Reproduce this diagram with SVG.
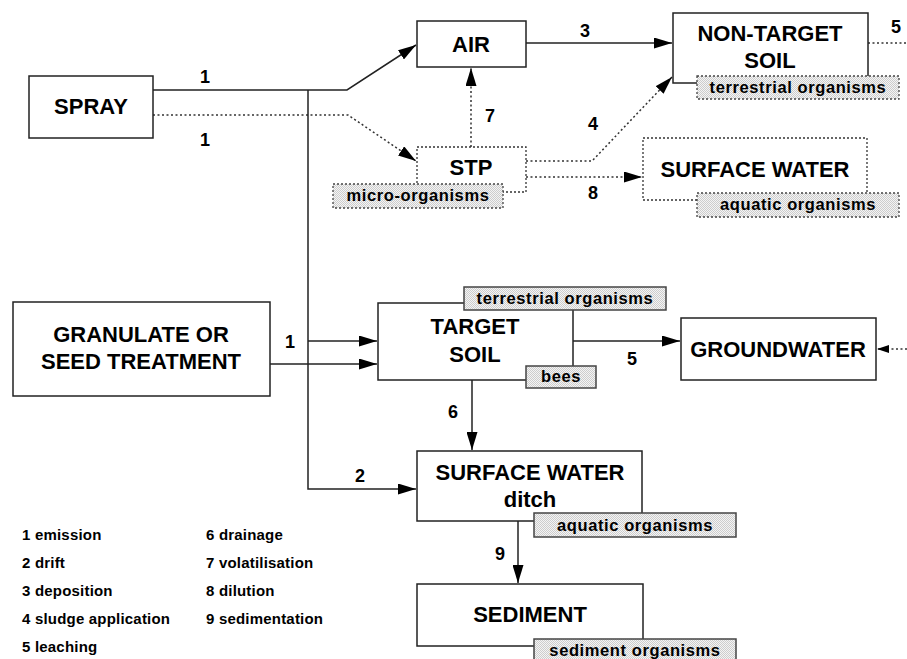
<svg xmlns="http://www.w3.org/2000/svg" width="907" height="659" viewBox="0 0 907 659">
<defs>
<pattern id="hatch" width="2" height="2" patternUnits="userSpaceOnUse">
<rect width="2" height="2" fill="#f4f4f4"/>
<rect width="1" height="1" fill="#cdcdcd"/>
<rect x="1" y="1" width="1" height="1" fill="#cdcdcd"/>
</pattern>
<marker id="ah" markerWidth="18" markerHeight="11" refX="18" refY="5.5" orient="auto" markerUnits="userSpaceOnUse">
<path d="M0,0 L18,5.5 L0,11 z" fill="#000"/>
</marker>
<marker id="ahs" markerWidth="12" markerHeight="8" refX="12" refY="4" orient="auto" markerUnits="userSpaceOnUse">
<path d="M0,0 L12,4 L0,8 z" fill="#000"/>
</marker>
<style>
.box{fill:#fff;stroke:#222;stroke-width:1.5}
.dbox{fill:none;stroke:#333;stroke-width:1.3;stroke-dasharray:2,2}
.hb{fill:url(#hatch);stroke:#444;stroke-width:1.5}
.hbd{fill:url(#hatch);stroke:#444;stroke-width:1.3;stroke-dasharray:2,2}
.ln{fill:none;stroke:#222;stroke-width:1.5}
.dl{fill:none;stroke:#333;stroke-width:1.5;stroke-dasharray:2,2.5}
.t{font-family:"Liberation Sans",Arial,sans-serif;font-weight:bold;font-size:22px;text-anchor:middle;fill:#000}
.h{font-family:"Liberation Sans",Arial,sans-serif;font-weight:bold;font-size:16.5px;letter-spacing:0.6px;text-anchor:middle;fill:#000}
.n{font-family:"Liberation Sans",Arial,sans-serif;font-weight:bold;font-size:18px;text-anchor:middle;fill:#000}
.lg{font-family:"Liberation Sans",Arial,sans-serif;font-weight:bold;font-size:15px;letter-spacing:0.2px;fill:#000}
</style>
</defs>
<rect width="907" height="659" fill="#fff"/>

<g id="connectors">
<path class="ln" d="M153,90 H347 L416,45" marker-end="url(#ah)"/>
<path class="dl" d="M153,115 H348 L416,161" marker-end="url(#ah)"/>
<path class="ln" d="M308,90 V489 H416" marker-end="url(#ah)"/>
<path class="ln" d="M308,341 H377" marker-end="url(#ah)"/>
<path class="ln" d="M270,364 H377" marker-end="url(#ah)"/>
<path class="ln" d="M526,43 H672" marker-end="url(#ah)"/>
<path class="dl" d="M471,147 V68" marker-end="url(#ah)"/>
<path class="dl" d="M526,161 H592 L672,77" marker-end="url(#ah)"/>
<path class="dl" d="M526,177 H642" marker-end="url(#ah)"/>
<path class="dl" d="M868,43 H907"/>
<path class="ln" d="M573,341 H680" marker-end="url(#ah)"/>
<path class="dl" d="M907,349 H877" marker-end="url(#ahs)"/>
<path class="ln" d="M472,380 V450" marker-end="url(#ah)"/>
<path class="ln" d="M518,521 V583" marker-end="url(#ah)"/>
<text class="n" x="205" y="83">1</text>
<text class="n" x="205" y="146">1</text>
<text class="n" x="585" y="37">3</text>
<text class="n" x="896" y="33">5</text>
<text class="n" x="490" y="122">7</text>
<text class="n" x="593" y="130">4</text>
<text class="n" x="593" y="199">8</text>
<text class="n" x="290" y="348">1</text>
<text class="n" x="360" y="482">2</text>
<text class="n" x="453" y="418">6</text>
<text class="n" x="632" y="365">5</text>
<text class="n" x="500" y="560">9</text>
</g>

<g id="spray">
<rect class="box" x="29" y="76" width="124" height="62"/>
<text class="t" x="91" y="114">SPRAY</text>
</g>

<g id="air">
<rect class="box" x="417" y="21" width="109" height="46"/>
<text class="t" x="471" y="52">AIR</text>
</g>

<g id="non-target-soil">
<rect class="box" x="673" y="13" width="195" height="70"/>
<text class="t" x="770" y="41">NON-TARGET</text>
<text class="t" x="770" y="68">SOIL</text>
<rect class="hbd" x="697" y="76" width="202" height="23"/>
<text class="h" x="798" y="93">terrestrial organisms</text>
</g>

<g id="stp">
<rect class="dbox" x="417" y="147" width="109" height="45"/>
<text class="t" x="471" y="175">STP</text>
<rect class="hbd" x="333" y="184" width="170" height="24"/>
<text class="h" x="418" y="201">micro-organisms</text>
</g>

<g id="surface-water-upper">
<rect class="dbox" x="643" y="138" width="224" height="62"/>
<text class="t" x="755" y="177">SURFACE WATER</text>
<rect class="hbd" x="697" y="193" width="202" height="24"/>
<text class="h" x="798" y="210">aquatic organisms</text>
</g>

<g id="granulate">
<rect class="box" x="13" y="302" width="257" height="94"/>
<text class="t" x="141" y="342">GRANULATE OR</text>
<text class="t" x="141" y="369">SEED TREATMENT</text>
</g>

<g id="target-soil">
<rect class="box" x="378" y="303" width="195" height="77"/>
<text class="t" x="475" y="334">TARGET</text>
<text class="t" x="475" y="362">SOIL</text>
<rect class="hb" x="464" y="287" width="202" height="23"/>
<text class="h" x="565" y="304">terrestrial organisms</text>
<rect class="hb" x="526" y="366" width="70" height="22"/>
<text class="h" x="561" y="382">bees</text>
</g>

<g id="groundwater">
<rect class="box" x="681" y="318" width="195" height="62"/>
<text class="t" x="778" y="357">GROUNDWATER</text>
</g>

<g id="surface-water-ditch">
<rect class="box" x="417" y="451" width="225" height="70"/>
<text class="t" x="530" y="480">SURFACE WATER</text>
<text class="t" x="530" y="507">ditch</text>
<rect class="hb" x="534" y="513" width="202" height="24"/>
<text class="h" x="635" y="531">aquatic organisms</text>
</g>

<g id="sediment">
<rect class="box" x="417" y="584" width="226" height="62"/>
<text class="t" x="530" y="622">SEDIMENT</text>
<rect class="hb" x="534" y="639" width="202" height="24"/>
<text class="h" x="635" y="656">sediment organisms</text>
</g>

<g id="legend">
<text class="lg" x="22" y="540">1 emission</text>
<text class="lg" x="22" y="568">2 drift</text>
<text class="lg" x="22" y="596">3 deposition</text>
<text class="lg" x="22" y="624">4 sludge application</text>
<text class="lg" x="22" y="652">5 leaching</text>
<text class="lg" x="206" y="540">6 drainage</text>
<text class="lg" x="206" y="568">7 volatilisation</text>
<text class="lg" x="206" y="596">8 dilution</text>
<text class="lg" x="206" y="624">9 sedimentation</text>
</g>
</svg>
